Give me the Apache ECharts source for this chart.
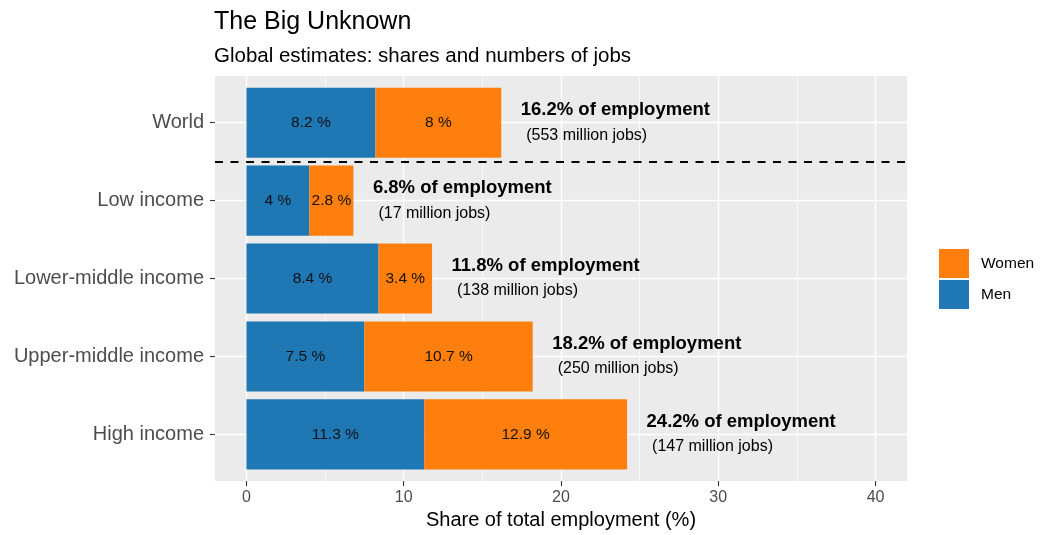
<!DOCTYPE html>
<html><head><meta charset="utf-8">
<script src="https://cdn.jsdelivr.net/npm/echarts@6/dist/echarts.min.js"></script>
<style>html,body{margin:0;padding:0;background:#fff}#c{width:1040px;height:535px}</style>
</head><body><div id="c"></div>
<script>
const categories = ['World', 'Low income', 'Lower-middle income', 'Upper-middle income', 'High income'];
const men = [8.2, 4.0, 8.4, 7.5, 11.3];
const women = [8.0, 2.8, 3.4, 10.7, 12.9];
const totals = [16.2, 6.8, 11.8, 18.2, 24.2];
const jobsMillions = [553, 17, 138, 250, 147];
const xTicks = [0, 10, 20, 30, 40];
const xMinorTicks = [5, 15, 25, 35];

const FONT = '"Liberation Sans", Arial, Helvetica, sans-serif';
const N = categories.length;
const pos = i => N - i;
const yTicks = categories.map((c, i) => pos(i));
const MEN_COLOR = '#1f77b4', WOMEN_COLOR = '#ff7f0e';

function barRenderer(values, color) {
  return function (params, api) {
    const x0 = api.value(0), x1 = api.value(1), y = api.value(2);
    const p0 = api.coord([x0, y]);
    const p1 = api.coord([x1, y]);
    const h = api.size([0, 0.9])[1];
    return {
      type: 'group',
      children: [
        { type: 'rect', shape: { x: p0[0], y: p0[1] - h / 2, width: p1[0] - p0[0], height: h }, style: { fill: color } },
        { type: 'text', style: { text: String(values[params.dataIndex]) + ' %', x: (p0[0] + p1[0]) / 2, y: p0[1],
            align: 'center', verticalAlign: 'middle', font: '15.5px ' + FONT, fill: '#111' } }
      ]
    };
  };
}

const chart = echarts.init(document.getElementById('c'), null, { renderer: 'canvas' });
chart.setOption({
  animation: false,
  backgroundColor: '#ffffff',
  title: {
    text: 'The Big Unknown',
    subtext: 'Global estimates: shares and numbers of jobs',
    left: 214, top: 10, itemGap: 11, padding: 0,
    textStyle: { fontFamily: FONT, fontSize: 25, fontWeight: 'normal', color: '#000' },
    subtextStyle: { fontFamily: FONT, fontSize: 20.5, color: '#000' }
  },
  legend: {
    data: [{ name: 'Women' }, { name: 'Men' }],
    orient: 'vertical', left: 939, top: 249, padding: 0,
    itemWidth: 30, itemHeight: 29, itemGap: 2, icon: 'rect',
    textStyle: { fontFamily: FONT, fontSize: 15.5, color: '#000', padding: [0, 0, 0, 7] },
    selectedMode: false
  },
  grid: { left: 215, right: 133, top: 76, bottom: 51, show: true, backgroundColor: '#ebebeb', borderWidth: 0, containLabel: false },
  xAxis: [{
    type: 'value', min: -2, max: 42,
    axisLine: { show: false, onZero: false },
    axisTick: { show: true, length: 5, lineStyle: { color: '#333', width: 1.1 }, customValues: xTicks },
    axisLabel: { customValues: xTicks, margin: 8, fontFamily: FONT, fontSize: 16, color: '#4d4d4d' },
    splitLine: { show: true, lineStyle: { color: '#fff', width: 1.4 } },
    name: 'Share of total employment (%)', nameLocation: 'middle', nameGap: 26,
    nameTextStyle: { fontFamily: FONT, fontSize: 20, color: '#000' }
  }, {
    type: 'value', min: -2, max: 42, position: 'bottom',
    axisLine: { show: false, onZero: false },
    axisTick: { show: false, customValues: xMinorTicks },
    axisLabel: { show: false, customValues: xMinorTicks },
    splitLine: { show: true, lineStyle: { color: '#fff', width: 0.7 } }
  }],
  yAxis: {
    type: 'value', min: 0.4, max: N + 0.6,
    axisLine: { show: false, onZero: false },
    axisTick: { show: true, inside: false, length: 5, lineStyle: { color: '#333', width: 1.1 }, customValues: yTicks },
    axisLabel: { customValues: yTicks, margin: 11, fontFamily: FONT, fontSize: 20, color: '#4d4d4d',
      formatter: v => categories[N - Math.round(v)] },
    splitLine: { show: true, lineStyle: { color: '#fff', width: 1.4 } }
  },
  series: [
    {
      name: 'Men', type: 'custom', xAxisIndex: 0, itemStyle: { color: MEN_COLOR },
      encode: { x: [0, 1], y: 2 },
      data: men.map((v, i) => [0, v, pos(i)]),
      renderItem: barRenderer(men, MEN_COLOR), silent: true
    },
    {
      name: 'Women', type: 'custom', xAxisIndex: 0, itemStyle: { color: WOMEN_COLOR },
      encode: { x: [0, 1], y: 2 },
      data: women.map((v, i) => [men[i], men[i] + v, pos(i)]),
      renderItem: barRenderer(women, WOMEN_COLOR), silent: true
    },
    {
      name: 'annotations', type: 'custom', xAxisIndex: 0,
      encode: { x: 0, y: 1 },
      data: totals.map((t, i) => [t, pos(i)]),
      silent: true,
      renderItem: function (params, api) {
        const i = params.dataIndex;
        const p = api.coord([api.value(0), api.value(1)]);
        return {
          type: 'group',
          children: [
            { type: 'text', style: { text: totals[i] + '% of employment', x: p[0] + 19.5, y: p[1] - 12.5,
                align: 'left', verticalAlign: 'middle', font: 'bold 18.5px ' + FONT, fill: '#000' } },
            { type: 'text', style: { text: '(' + jobsMillions[i] + ' million jobs)', x: p[0] + 25, y: p[1] + 12.5,
                align: 'left', verticalAlign: 'middle', font: '16px ' + FONT, fill: '#000' } }
          ]
        };
      },
      markLine: {
        silent: true, symbol: 'none', animation: false,
        label: { show: false },
        lineStyle: { type: [8, 7.5], color: '#000', width: 1.8 },
        data: [{ yAxis: N - 0.5 }]
      }
    }
  ]
});
</script></body></html>
